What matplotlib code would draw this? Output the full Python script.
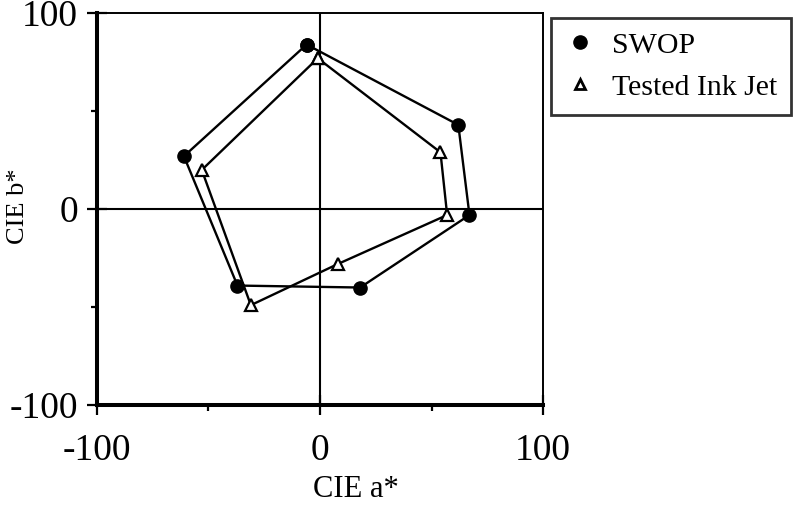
import numpy as np
import matplotlib
matplotlib.use("Agg")
import matplotlib.pyplot as plt
from matplotlib.lines import Line2D

# CIE a*, b* coordinates of the primaries / secondaries (closed hexagons)
swop_a = [-6, 62, 67, 18, -37, -61]
swop_b = [84, 43, -3, -40, -39, 27]

inkjet_a = [-1, 54, 57, 8, -31, -53]
inkjet_b = [77, 29, -3, -28, -49, 20]

ticks = [-100, 0, 100]
minor_ticks = [-50, 50]

plt.rcParams['font.family'] = ['Liberation Serif', 'DejaVu Serif']
plt.rcParams['axes.unicode_minus'] = False

fig = plt.figure(figsize=(8.01, 5.07), dpi=100)
ax = fig.add_axes([0.121, 0.201, 0.557, 0.773])

# close the polygons
sa = swop_a + swop_a[:1]
sb = swop_b + swop_b[:1]
ia = inkjet_a + inkjet_a[:1]
ib = inkjet_b + inkjet_b[:1]

ax.axhline(0, color='black', lw=1.5, zorder=1)
ax.axvline(0, color='black', lw=1.5, zorder=1)

ax.plot(sa, sb, color='black', lw=1.7, marker='o', markersize=9.5,
        markerfacecolor='black', zorder=3)
ax.plot(ia, ib, color='black', lw=1.7, marker='^', markersize=8,
        markerfacecolor='white', markeredgewidth=1.6, zorder=4)

ax.set_xlim(-100, 100)
ax.set_ylim(-100, 100)
ax.set_xticks(ticks)
ax.set_yticks(ticks)
ax.set_xticks(minor_ticks, minor=True)
ax.set_yticks(minor_ticks, minor=True)
ax.tick_params(which='major', direction='inout', length=15, width=1.6,
               labelsize=27)
ax.tick_params(axis='x', which='major', pad=13)
ax.tick_params(axis='y', which='major', pad=6)
ax.tick_params(which='minor', direction='out', length=4.5, width=1.6)

ax.spines['left'].set_linewidth(2.9)
ax.spines['bottom'].set_linewidth(2.9)
ax.spines['top'].set_linewidth(1.4)
ax.spines['right'].set_linewidth(1.4)

ax.set_xlabel('CIE a*', fontsize=22)
ax.xaxis.set_label_coords(0.58, -0.178)
ax.set_ylabel('CIE b*', fontsize=19)
ax.yaxis.set_label_coords(-0.152, 0.508)

handles = [
    Line2D([], [], ls='none', marker='o', color='black', markersize=9.5),
    Line2D([], [], ls='none', marker='^', color='black', markerfacecolor='white',
           markeredgewidth=2, markersize=7.5),
]
leg = fig.legend(handles, ['SWOP', 'Tested Ink Jet'], loc='upper left',
                 bbox_to_anchor=(0.688, 0.9645), fontsize=21.5, frameon=True,
                 fancybox=False, borderpad=0.47, handletextpad=0.57,
                 labelspacing=0.5, handlelength=1.0, borderaxespad=0)
leg.get_frame().set_edgecolor('black')
leg.get_frame().set_linewidth(2)

fig.savefig('out.png', dpi=100)
